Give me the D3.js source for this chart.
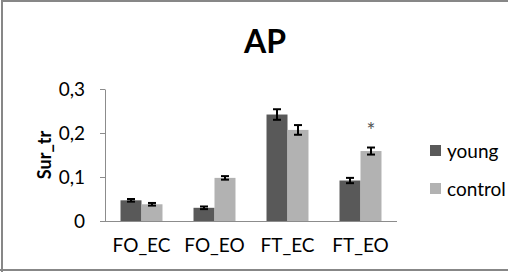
<!DOCTYPE html>
<html>
<head>
<meta charset="utf-8">
<script src="https://cdn.jsdelivr.net/npm/d3@7"></script>
<style>
  body { margin: 0; background: #fff; }
  svg { display: block; font-family: Lato, "Liberation Sans", Arial, sans-serif; }
</style>
</head>
<body>
<svg id="chart" width="508" height="272"></svg>
<script>
var categories = ["FO_EC", "FO_EO", "FT_EC", "FT_EO"];
var seriesNames = ["young", "control"];
var young = [0.047, 0.030, 0.242, 0.092];
var control = [0.038, 0.098, 0.207, 0.159];
var youngErr = [0.003, 0.003, 0.012, 0.006];
var controlErr = [0.003, 0.004, 0.011, 0.008];
var yTicks = [0, 0.1, 0.2, 0.3];
var yTickLabels = ["0", "0,1", "0,2", "0,3"];
var starred = [{ cat: "FT_EO", series: "control" }];

var colors = { young: "#595959", control: "#b2b2b2" };

var svg = d3.select("#chart"),
    width = +svg.attr("width"),
    height = +svg.attr("height"),
    margin = { top: 89, right: 111, bottom: 51, left: 105 };

// frame
svg.append("path")
    .attr("d", "M2," + height + "V1H" + width)
    .attr("fill", "none")
    .attr("stroke", "#878787")
    .attr("stroke-width", 2);
svg.append("line")
    .attr("x1", 0).attr("x2", width)
    .attr("y1", height - 2).attr("y2", height - 2)
    .attr("stroke", "#878787")
    .attr("stroke-width", 2);

var data = categories.map(function (c, i) {
    return {
        cat: c,
        values: [
            { series: "young", value: young[i], err: youngErr[i] },
            { series: "control", value: control[i], err: controlErr[i] }
        ]
    };
});

var x0 = d3.scaleBand()
    .domain(categories)
    .range([margin.left, width - margin.right])
    .paddingInner(0.425)
    .paddingOuter(0.2125);

var x1 = d3.scaleBand()
    .domain(seriesNames)
    .range([0, x0.bandwidth()]);

var y = d3.scaleLinear()
    .domain([0, 0.3])
    .range([height - margin.bottom, margin.top]);

// y axis
var yAxis = svg.append("g")
    .attr("transform", "translate(" + margin.left + ",0)")
    .call(d3.axisLeft(y)
        .tickValues(yTicks)
        .tickFormat(function (d, i) { return yTickLabels[i]; })
        .tickSize(5)
        .tickSizeOuter(0)
        .tickPadding(15));
yAxis.select(".domain").attr("stroke", "#8c8c8c");
yAxis.selectAll(".tick line").attr("stroke", "#8c8c8c");
yAxis.selectAll(".tick text")
    .attr("font-family", "Lato, sans-serif")
    .attr("font-size", 19)
    .attr("fill", "#000");

// x axis
var xAxis = svg.append("g")
    .attr("transform", "translate(0," + y(0) + ")")
    .call(d3.axisBottom(x0).tickSize(0).tickSizeOuter(0).tickPadding(18));
xAxis.select(".domain")
    .attr("d", "M" + (margin.left - 5) + ",0.5H" + (width - margin.right))
    .attr("stroke", "#8c8c8c");
xAxis.selectAll(".tick text")
    .attr("font-family", "Lato, sans-serif")
    .attr("font-size", 19)
    .attr("fill", "#000");

// bars
var groups = svg.append("g")
    .selectAll("g")
    .data(data)
    .enter().append("g")
    .attr("transform", function (d) { return "translate(" + x0(d.cat) + ",0)"; });

groups.selectAll("rect")
    .data(function (d) { return d.values; })
    .enter().append("rect")
    .attr("x", function (d) { return x1(d.series); })
    .attr("y", function (d) { return y(d.value); })
    .attr("width", x1.bandwidth())
    .attr("height", function (d) { return y(0) - y(d.value); })
    .attr("fill", function (d) { return colors[d.series]; });

// error bars
var eb = groups.selectAll("g.err")
    .data(function (d) { return d.values; })
    .enter().append("g")
    .attr("class", "err")
    .attr("stroke", "#000")
    .attr("stroke-width", 2);
eb.append("line")
    .attr("x1", function (d) { return x1(d.series) + x1.bandwidth() / 2; })
    .attr("x2", function (d) { return x1(d.series) + x1.bandwidth() / 2; })
    .attr("y1", function (d) { return y(d.value + d.err); })
    .attr("y2", function (d) { return y(d.value - d.err); });
eb.selectAll("line.cap")
    .data(function (d) { return [[d, d.value + d.err], [d, d.value - d.err]]; })
    .enter().append("line")
    .attr("class", "cap")
    .attr("x1", function (d) { return x1(d[0].series) + x1.bandwidth() / 2 - 4; })
    .attr("x2", function (d) { return x1(d[0].series) + x1.bandwidth() / 2 + 4; })
    .attr("y1", function (d) { return y(d[1]); })
    .attr("y2", function (d) { return y(d[1]); });

// significance marker
starred.forEach(function (s) {
    var i = categories.indexOf(s.cat);
    var v = s.series === "young" ? young[i] + youngErr[i] : control[i] + controlErr[i];
    svg.append("text")
        .attr("x", x0(s.cat) + x1(s.series) + x1.bandwidth() / 2)
        .attr("y", y(v) - 10)
        .attr("text-anchor", "middle")
        .attr("font-family", "Lato, sans-serif")
        .attr("font-size", 21)
        .attr("fill", "#555")
        .text("*");
});

// title
svg.append("text")
    .attr("x", 265)
    .attr("y", 53)
    .attr("text-anchor", "middle")
    .attr("font-family", "Lato, sans-serif")
    .attr("font-weight", "bold")
    .attr("font-size", 32)
    .text("AP");

// y label
svg.append("text")
    .attr("transform", "translate(51," + ((y(0) + y(0.3)) / 2) + ") rotate(-90)")
    .attr("text-anchor", "middle")
    .attr("font-family", "Lato, sans-serif")
    .attr("font-weight", "bold")
    .attr("font-size", 18)
    .text("Sur_tr");

// legend
var legend = svg.append("g")
    .selectAll("g")
    .data(seriesNames)
    .enter().append("g")
    .attr("transform", function (d, i) { return "translate(430," + (145 + i * 38) + ")"; });
legend.append("rect")
    .attr("width", 11)
    .attr("height", 11)
    .attr("fill", function (d) { return colors[d]; });
legend.append("text")
    .attr("x", 17)
    .attr("y", 13)
    .attr("font-family", "Lato, sans-serif")
    .attr("font-size", 19)
    .text(function (d) { return d; });
</script>
</body>
</html>
